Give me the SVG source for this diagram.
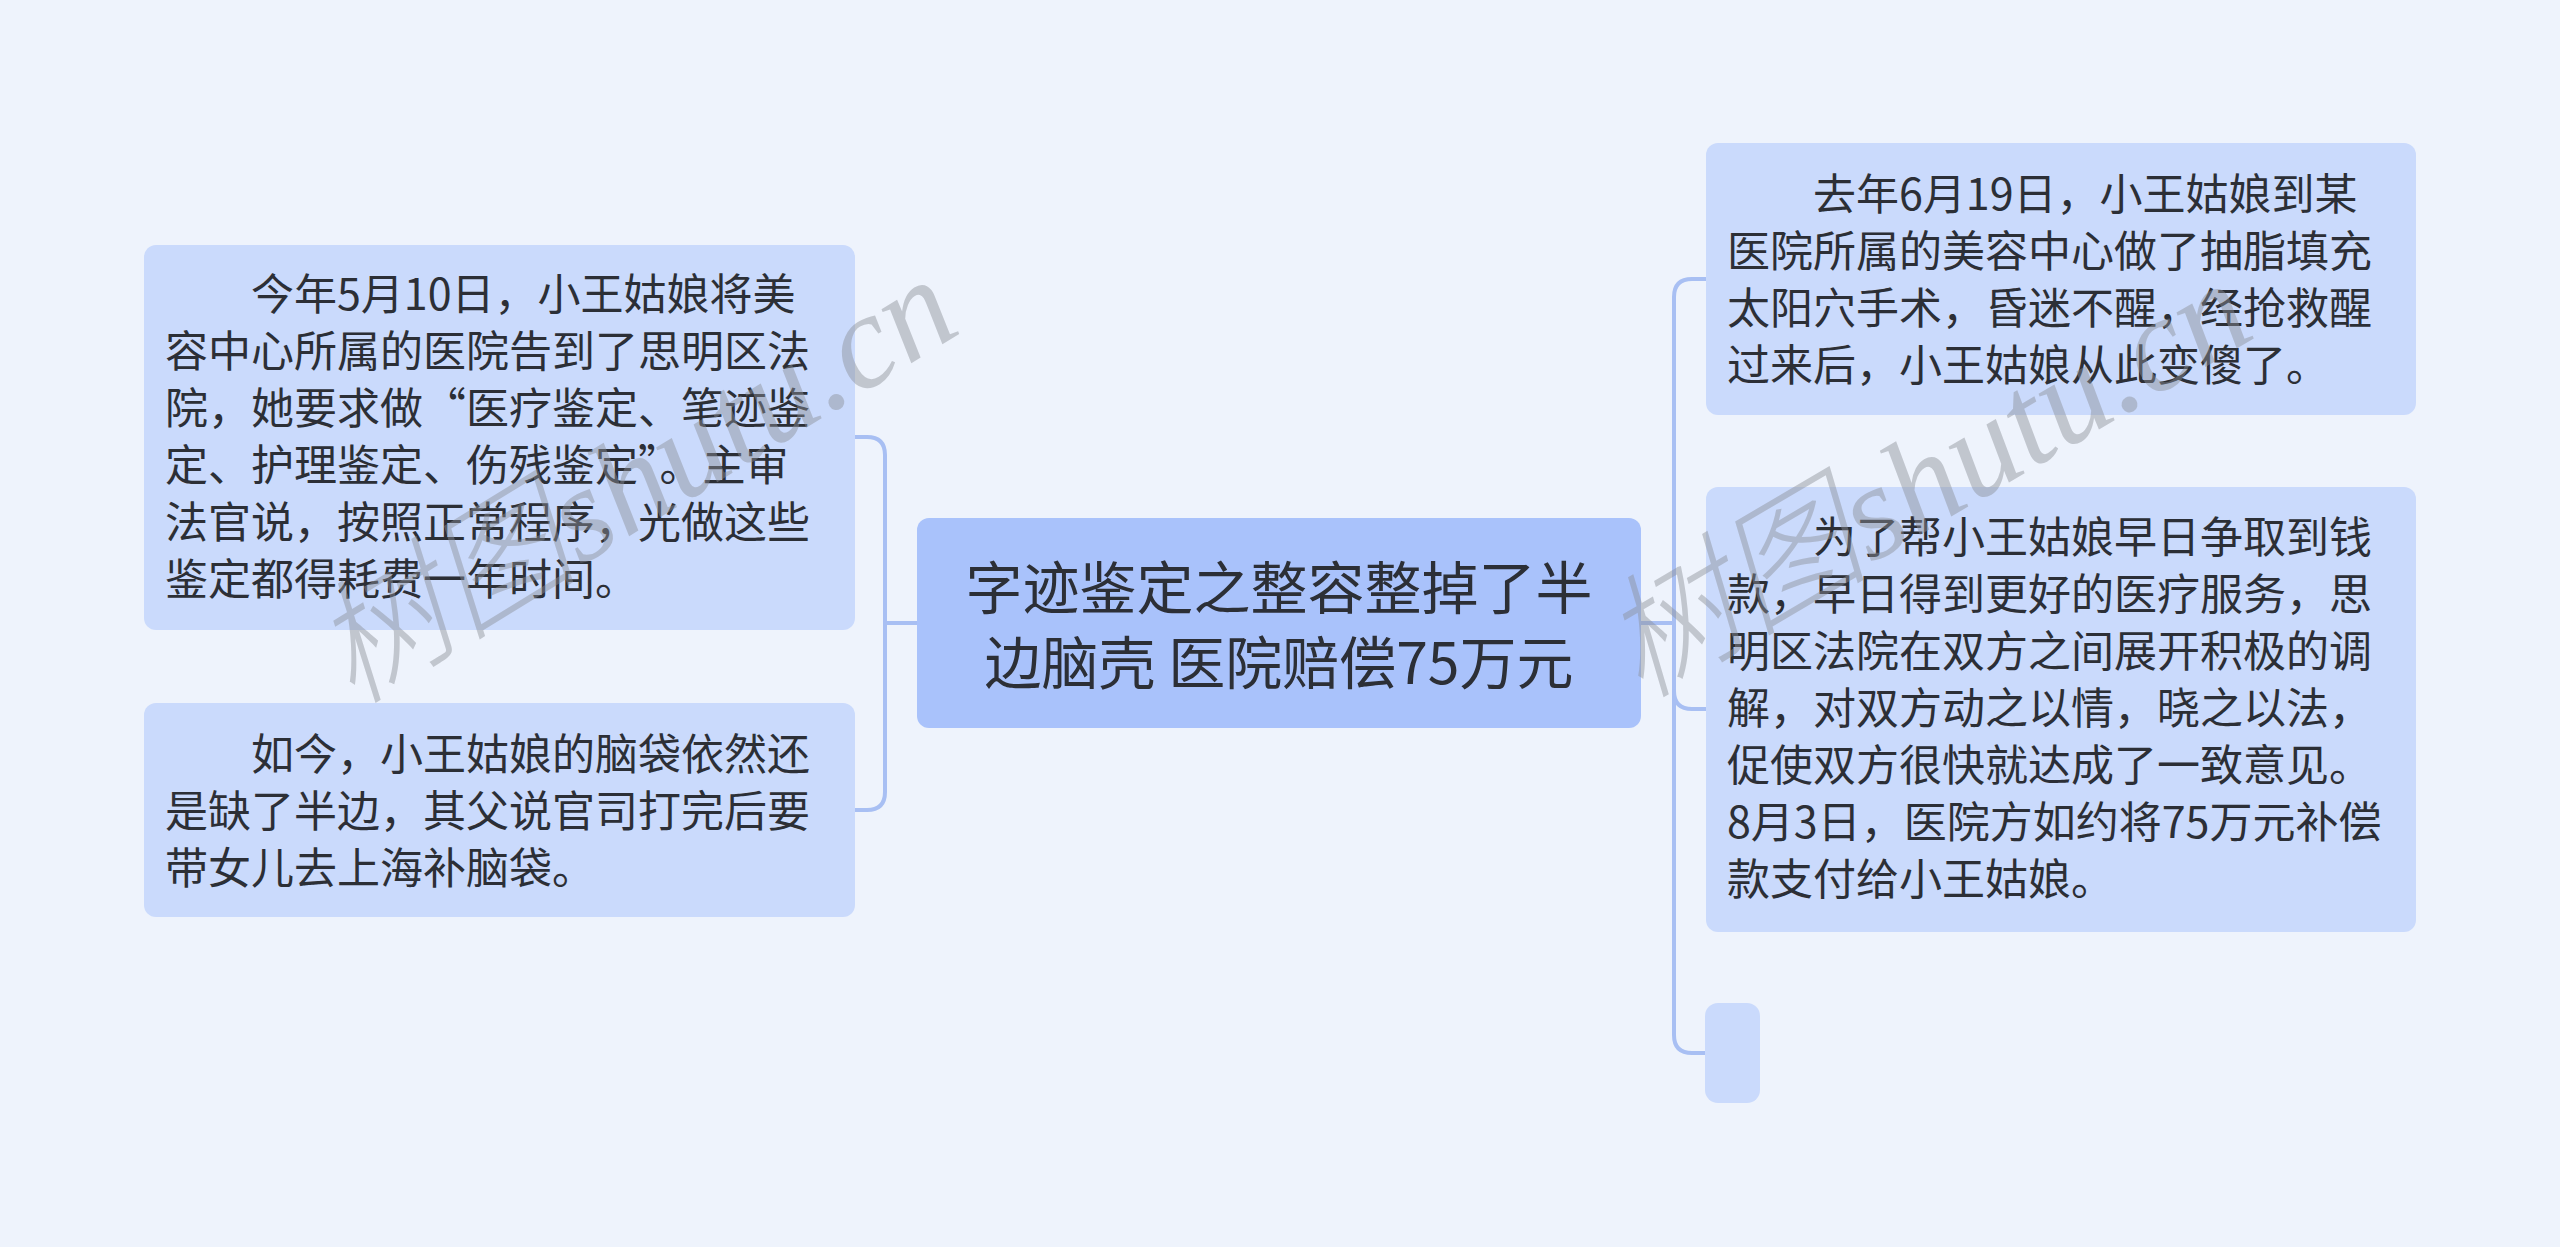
<svg xmlns="http://www.w3.org/2000/svg" width="2560" height="1247" viewBox="0 0 2560 1247">
<style>
.bg{fill:#eef3fc}
.root{fill:#a9c2fb}
.child{fill:#cadafc}
.t{font-family:"Noto Sans CJK SC","Noto Sans",sans-serif;fill:#2c2f36}
.rt{font-size:57px}
.ct{font-size:43px}
.fw{font-feature-settings:"fwid"}
.conn{fill:none;stroke:#a8bff3;stroke-width:4;stroke-linecap:round}
.wm{font-family:"Liberation Serif","Noto Sans CJK SC",serif;font-style:italic;font-size:134px;font-weight:300;fill:#8c9098;opacity:0.45}
</style>
<rect class="bg" x="0" y="0" width="2560" height="1247"/>
<g id="connectors">
<path class="conn" d="M917,623 H885"/>
<path class="conn" d="M855,437 H867 Q885,437 885,455 V792 Q885,810 867,810 H855"/>
<path class="conn" d="M1641,623 H1674"/>
<path class="conn" d="M1706,279 H1692 Q1674,279 1674,297 V1035 Q1674,1053 1692,1053 H1705"/>
<path class="conn" d="M1674,691 Q1674,709 1692,709 H1706"/>
</g>
<g id="root">
<rect class="root" x="917" y="518" width="724" height="210" rx="12"/>
<text class="t rt" text-anchor="middle"><tspan x="1279" y="609">字迹鉴定之整容整掉了半</tspan><tspan x="1279" y="684">边脑壳 医院赔偿75万元</tspan></text>
</g>
<g id="node-left-1">
<rect class="child" x="144" y="245" width="711" height="385" rx="12"/>
<text class="t ct"><tspan x="165" y="310">　　今年5月10日，小王姑娘将美</tspan><tspan x="165" y="367">容中心所属的医院告到了思明区法</tspan><tspan x="165" y="424">院，她要求做<tspan class="fw">“</tspan>医疗鉴定、笔迹鉴</tspan><tspan x="165" y="481">定、护理鉴定、伤残鉴定<tspan class="fw">”</tspan>。主审</tspan><tspan x="165" y="538">法官说，按照正常程序，光做这些</tspan><tspan x="165" y="595">鉴定都得耗费一年时间。</tspan></text>
</g>
<g id="node-left-2">
<rect class="child" x="144" y="703" width="711" height="214" rx="12"/>
<text class="t ct"><tspan x="165" y="770">　　如今，小王姑娘的脑袋依然还</tspan><tspan x="165" y="827">是缺了半边，其父说官司打完后要</tspan><tspan x="165" y="884">带女儿去上海补脑袋。</tspan></text>
</g>
<g id="node-right-1">
<rect class="child" x="1706" y="143" width="710" height="272" rx="12"/>
<text class="t ct"><tspan x="1727" y="210">　　去年6月19日，小王姑娘到某</tspan><tspan x="1727" y="267">医院所属的美容中心做了抽脂填充</tspan><tspan x="1727" y="324">太阳穴手术，昏迷不醒，经抢救醒</tspan><tspan x="1727" y="381">过来后，小王姑娘从此变傻了。</tspan></text>
</g>
<g id="node-right-2">
<rect class="child" x="1706" y="487" width="710" height="445" rx="12"/>
<text class="t ct"><tspan x="1727" y="553">　　为了帮小王姑娘早日争取到钱</tspan><tspan x="1727" y="610">款，早日得到更好的医疗服务，思</tspan><tspan x="1727" y="667">明区法院在双方之间展开积极的调</tspan><tspan x="1727" y="724">解，对双方动之以情，晓之以法，</tspan><tspan x="1727" y="781">促使双方很快就达成了一致意见。</tspan><tspan x="1727" y="838">8月3日，医院方如约将75万元补偿</tspan><tspan x="1727" y="895">款支付给小王姑娘。</tspan></text>
</g>
<g id="node-right-3">
<rect class="child" x="1705" y="1003" width="55" height="100" rx="13"/>
</g>
<g id="watermarks">
<text class="wm" transform="translate(352,706) rotate(-31.5)">树图shutu.cn</text>
<text class="wm" transform="translate(1640,700) rotate(-30.5)">树图shutu.cn</text>
</g>
</svg>
